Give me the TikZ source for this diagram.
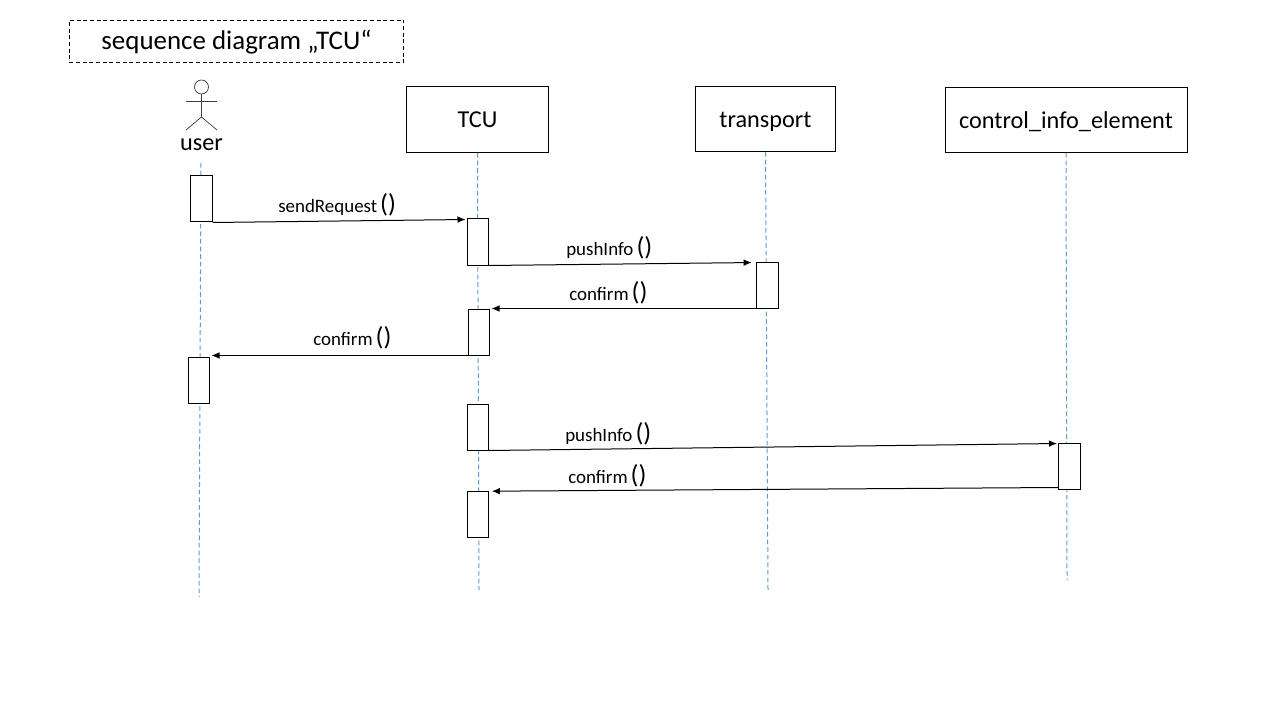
\documentclass[tikz,border=0pt]{standalone}
\usepackage{fontspec}
\setmainfont{Carlito}
\usetikzlibrary{arrows.meta}
\definecolor{lifeblue}{HTML}{5B9BD5}
\newcommand{\callname}[1]{{\fontsize{14.2}{16}\selectfont #1} {\fontsize{19.5}{20}\selectfont ()}}
\tikzset{
    headbox/.style={
        draw, rectangle, fill=white,
        line width=0.75pt, text=black, inner sep=0pt,
        text height=14pt, text depth=1.5pt,
        font=\fontsize{18.2}{20}\selectfont
    },
    titlebox/.style={headbox, dashed, dash pattern=on 3pt off 2pt, line width=0.6pt, font=\fontsize{20.2}{22}\selectfont},
    activation/.style={
        draw, rectangle, fill=white, line width=0.75pt,
        minimum width=16pt, minimum height=34.5pt, inner sep=0pt
    },
    lifeline/.style={lifeblue, line width=0.75pt, dash pattern=on 3.5pt off 2.2pt},
    connect/.style={-{Latex[length=6pt,width=5pt]}, line width=0.75pt},
    msg/.style={anchor=west, inner sep=0pt, text=black},
    stick/.style={black!75, line width=0.55pt}
}
\begin{document}
\begin{tikzpicture}[x=0.75pt,y=-0.75pt]
    \useasboundingbox (0,0) rectangle (1280,720);

    \node[titlebox,minimum width=251pt,minimum height=31.5pt] (title) at (236.5,41) {sequence diagram „TCU“};

    \node[headbox,minimum width=106.5pt,minimum height=49.5pt] (tcu) at (477.5,119.5) {TCU};
    \node[headbox,minimum width=105.5pt,minimum height=48.75pt] (transport) at (765.5,119) {transport};
    \node[headbox,minimum width=181.5pt,minimum height=48.75pt] (control) at (1066,120) {control\_info\_element};

    % actor
    \node[draw,circle,stick,minimum size=10.5pt,inner sep=0pt] (head) at (201.5,87) {};
    \coordinate (hip) at (201.5,117);
    \coordinate (armL) at (186,101);
    \coordinate (armR) at (217,101);
    \coordinate (legL) at (186,130);
    \coordinate (legR) at (217,130);
    \draw[stick] (head.south) -- (hip);
    \draw[stick] (armL) -- (armR);
    \draw[stick] (legL) -- (hip) -- (legR);
    \node[font=\fontsize{18.2}{20}\selectfont,inner sep=0pt] (user) at (201.5,145) {user};

    % lifelines
    \coordinate (userTop) at (201,163);
    \coordinate (userEnd) at (199,597);
    \coordinate (tcuEnd) at (479,590);
    \coordinate (transportEnd) at (768,590);
    \coordinate (controlEnd) at (1067,580);
    \draw[lifeline] (userTop) -- (userEnd);
    \draw[lifeline] (tcu.south) -- (tcuEnd);
    \draw[lifeline] (transport.south) -- (transportEnd);
    \draw[lifeline] (control.south) -- (controlEnd);

    % activations
    \node[activation] (userA) at (201.5,199) {};
    \node[activation] (tcuA) at (478,242) {};
    \node[activation] (transportA) at (767.5,285) {};
    \node[activation] (tcuB) at (479,332) {};
    \node[activation] (userB) at (199,380) {};
    \node[activation] (tcuC) at (478,427) {};
    \node[activation] (controlA) at (1069.5,466) {};
    \node[activation] (tcuD) at (478,514.7) {};

    % messages
    \draw[connect,shorten >=1pt] (userA.south east) -- ([yshift=-0.75pt]tcuA.north west);
    \draw[connect,shorten >=3.5pt] (tcuA.south east) -- ([yshift=-0.75pt]transportA.north west);
    \draw[connect,shorten >=1pt] (transportA.south west) -- (tcuB.north east);
    \draw[connect,shorten >=1pt] (tcuB.south west) -- ([yshift=0.75pt]userB.north east);
    \draw[connect,shorten >=1pt] (tcuC.south east) -- ([yshift=-0.75pt]controlA.north west);
    \draw[connect,shorten >=2pt] ([yshift=1.5pt]controlA.south west) -- (tcuD.north east);

    \node[msg] (sendRequestLbl) at (278,205) {\callname{sendRequest}};
    \node[msg] (pushInfoLbl) at (566,248) {\callname{pushInfo}};
    \node[msg] (confirmLblA) at (569,293) {\callname{confirm}};
    \node[msg] (confirmLblB) at (313,338) {\callname{confirm}};
    \node[msg] (pushInfoLblB) at (565,433.5) {\callname{pushInfo}};
    \node[msg] (confirmLblC) at (568,476) {\callname{confirm}};
\end{tikzpicture}
\end{document}
